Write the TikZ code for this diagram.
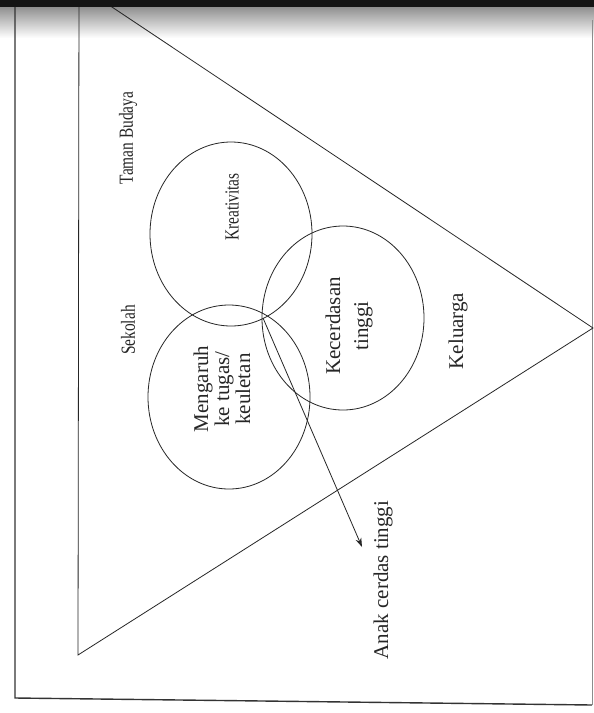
\documentclass[tikz,border=0pt]{standalone}
\usepackage{fontspec}
\setmainfont{Liberation Serif}
\newfontfamily\condserif[FakeStretch=0.77]{Liberation Serif}
\usetikzlibrary{shapes.geometric,arrows.meta}
\begin{document}
\begin{tikzpicture}[x=1pt,y=-1pt,
  ring/.style={draw=black!85, line width=0.8pt, ellipse, minimum width=162pt, minimum height=184pt, inner sep=0pt},
  lbl/.style={rotate=90, font=\fontsize{21}{22}\selectfont, text=black!85, inner sep=0pt, align=center},
  lblsmall/.style={rotate=90, font=\condserif\fontsize{20}{21}\selectfont, text=black!85, inner sep=0pt, align=center},
  edgeline/.style={draw=black!85, line width=0.8pt},
  framel/.style={draw=black!80, line width=1.4pt}]
\useasboundingbox (0,0) rectangle (594,713);
\clip (0,0) rectangle (594,713);
\fill[white] (0,0) rectangle (594,713);
\shade[top color=black!45, bottom color=white] (0,6) rectangle (594,38);
% frame
\coordinate (ftl) at (15,0);
\coordinate (fbl) at (15,698);
\coordinate (fbr) at (592,705);
\coordinate (ftr) at (592,20);
\draw[framel] (ftl) -- (fbl) -- (fbr);
\draw[draw=black!45, line width=0.8pt] (ftr) -- (fbr);
% triangle
\coordinate (ttl) at (79,-15);
\coordinate (tbl) at (78,655);
\coordinate (tap) at (593,328);
\draw[edgeline] (ttl) -- (tbl) -- (tap) -- cycle;
% circles
\node[ring] (ckr) at (231,234) {};
\node[ring] (cmg) at (229,397) {};
\node[ring] (ckc) at (343,318) {};
% labels
\node[lblsmall] (tb) at (128,138) {Taman Budaya};
\node[lblsmall] (sk) at (128,330) {Sekolah};
\node[lblsmall] (kr) at (232,207) {Kreativitas};
\node[lbl] (mg) at (222,389) {Mengaruh\\[-1pt]ke tugas/\\[-1pt]keuletan};
\node[lbl] (kc) at (349,326) {Kecerdasan\\[6pt]tinggi};
\node[lbl] (kl) at (458,331) {Keluarga};
\node[lbl] (ac) at (383,580) {Anak cerdas tinggi};
% arrow
\coordinate (xs) at (263,318);
\coordinate (xt) at (362,547);
\draw[edgeline, -{Stealth[length=9pt,width=6pt]}] (xs) -- (xt);
% top dark band
\fill[black!92] (0,0) rectangle (594,7);
\end{tikzpicture}
\end{document}
